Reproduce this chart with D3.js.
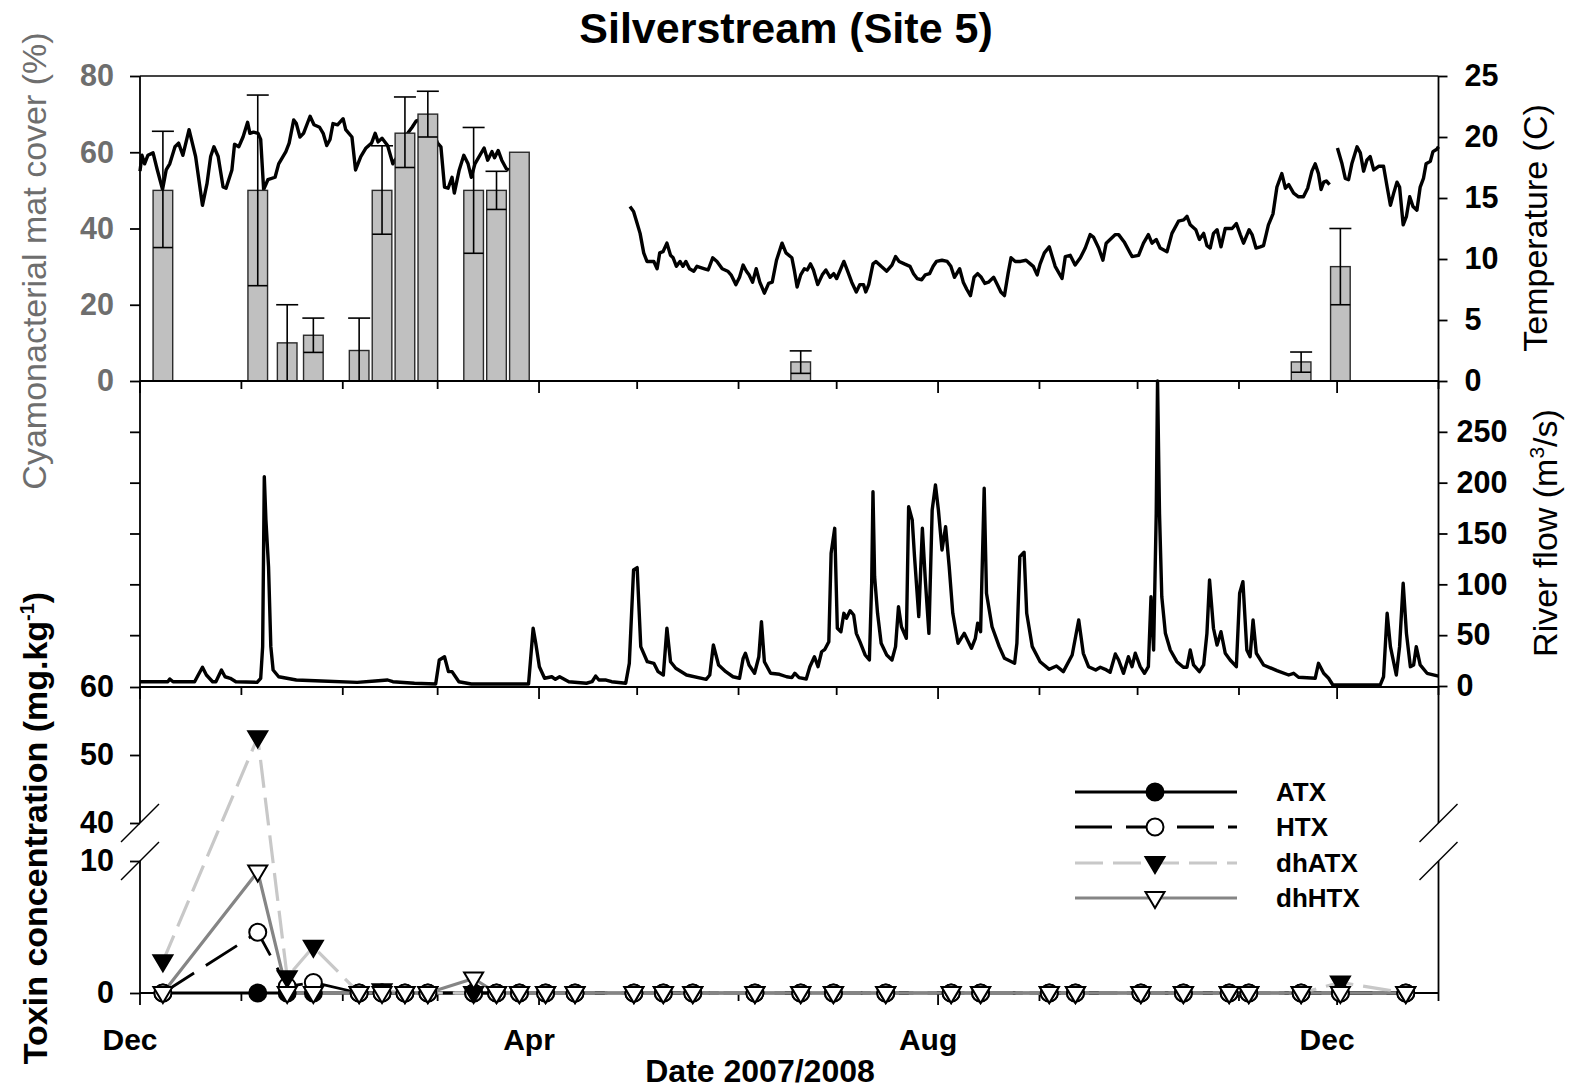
<!DOCTYPE html>
<html><head><meta charset="utf-8">
<script src="https://cdnjs.cloudflare.com/ajax/libs/d3/7.8.5/d3.min.js"></script>
<style>
html,body{margin:0;padding:0;background:#fff;}
svg text{font-family:"Liberation Sans",Arial,Helvetica,sans-serif;}
</style></head><body>
<svg id="chart" width="1570" height="1089"></svg>
<script>
// ---------------- DATA ----------------
const START = "2007-12-01", END = "2009-01-01";
const chartTitle = "Silverstream (Site 5)";
const monthLabels = ["Dec", "Apr", "Aug", "Dec"];
const matTicks = [0, 20, 40, 60, 80];
const tempTicks = [0, 5, 10, 15, 20, 25];
const flowTicks = [0, 50, 100, 150, 200, 250];
const toxinTicks = [0, 10, 40, 50, 60];
const seriesNames = ["ATX", "HTX", "dhATX", "dhHTX"];

// toxin sampling dates
const sampleDates = ["2007-12-08","2008-01-06","2008-01-15","2008-01-23","2008-02-06","2008-02-13","2008-02-20","2008-02-27",
  "2008-03-12","2008-03-19","2008-03-26","2008-04-03","2008-04-12","2008-04-30","2008-05-09","2008-05-18","2008-06-06",
  "2008-06-20","2008-06-30","2008-07-16","2008-08-05","2008-08-14","2008-09-04","2008-09-12","2008-10-02","2008-10-15",
  "2008-10-29","2008-11-04","2008-11-20","2008-12-02","2008-12-22"];
const atx   = [0,0,0,0,0,0,0,0,0,0,0,0,0,0,0,0,0,0,0,0,0,0,0,0,0,0,0,0,0,0,0];
const htx   = [0,4.6,0.5,0.8,0,0,0,0,0,0,0,0,0,0,0,0,0,0,0,0,0,0,0,0,0,0,0,0,0,0,0];
const dhatx = [2.4,52.6,1.2,3.5,0,0.2,0,0,0,0,0,0,0,0,0,0,0,0,0,0,0,0,0,0,0,0,0,0,0,0.8,0];
const dhhtx = [0,9.2,0,0,0,0,0,0,1.1,0,0,0,0,0,0,0,0,0,0,0,0,0,0,0,0,0,0,0,0,0,0];

// cyanobacterial mat cover (%) with error range
const matDates = ["2007-12-08","2008-01-06","2008-01-15","2008-01-23","2008-02-06","2008-02-13","2008-02-20",
  "2008-02-27","2008-03-12","2008-03-19","2008-03-26","2008-06-20","2008-11-20","2008-12-02"];
const matCover = [50, 50, 10, 12, 8, 50, 65, 70, 50, 50, 60, 5, 5, 30];
const matLow   = [35, 25, 0, 7.5, 0, 38.5, 56, 64, 33.5, 45, null, 2, 2.3, 20];
const matHigh  = [65.5, 75, 20, 16.5, 16.5, 61.7, 74.5, 76, 66.5, 55, null, 7.9, 7.6, 40];

// water temperature, [days since START, deg C], three logged stretches
const tempSeg1 = [[0,17.2],[0.6,18.5],[1.4,17.8],[2.4,18.5],[4.0,18.7],[5.2,17.4],[6.9,15.7],[8.0,17.3],[9.1,17.8],[10.7,19.2],[11.8,19.5],[13.1,18.5],[15.0,20.6],[17.0,18.4],[19.1,14.4],[20.5,16.2],[21.6,18.4],[22.6,19.2],[23.9,18.4],[25.4,15.9],[26.3,15.8],[28.1,17.3],[28.9,19.4],[30.2,19.2],[31.5,20.0],[32.9,21.2],[33.6,20.3],[34.7,20.4],[36.1,20.3],[36.9,19.8],[37.8,15.7],[39.1,16.5],[41.3,16.7],[42.4,17.8],[44.6,18.8],[45.6,19.5],[47.0,21.4],[47.8,21.1],[48.9,20.0],[50.0,20.3],[52.0,21.7],[53.2,21.0],[54.9,20.8],[56.0,20.3],[57.1,19.3],[58.1,19.8],[59.0,21.1],[60.4,21.0],[62.1,21.5],[62.9,20.6],[64.8,20.0],[65.9,17.3],[67.5,18.4],[69.1,19.1],[70.8,19.5],[71.9,20.3],[72.8,19.6],[74.0,19.9],[75.7,19.3],[77.3,17.8],[78.9,18.5],[81.0,20.0],[83.2,20.8],[84.4,21.3],[86.2,21.5],[88.7,21.0],[91.0,19.5],[92.0,19.2],[93.1,15.9],[94.2,15.8],[95.4,16.7],[96.1,15.4],[97.6,17.3],[99.0,18.5],[100.3,17.8],[101.3,16.7],[102.4,17.8],[105.2,19.1],[106.3,18.1],[107.6,18.8],[108.4,18.3],[109.5,18.9],[110.6,18.1],[112.0,17.4],[112.8,17.3]];
const tempSeg2 = [[149.8,14.3],[150.9,13.9],[151.8,13.1],[152.9,12.1],[154.0,10.5],[155.0,9.8],[157.1,9.8],[158.1,9.2],[158.9,10.5],[159.9,10.6],[161.1,11.3],[162.2,10.3],[163.0,10.1],[164.0,9.4],[165.1,9.8],[166.0,9.4],[166.9,9.8],[168.0,9.2],[169.3,9.0],[170.3,9.4],[172.6,9.2],[173.7,9.1],[175.1,10.1],[176.4,9.8],[178.0,9.2],[179.7,9.0],[180.7,8.7],[182.2,7.9],[183.3,8.5],[184.4,9.5],[185.4,9.0],[186.2,8.7],[187.3,8.1],[188.4,9.2],[189.5,8.1],[190.9,7.2],[192.2,8.0],[193.3,8.1],[194.6,9.9],[196.3,11.3],[197.5,10.5],[199.3,10.1],[200.1,9.0],[200.9,7.7],[202.0,8.7],[203.1,9.2],[204.0,9.1],[205.0,9.6],[205.9,9.1],[207.2,7.9],[208.6,8.7],[209.7,9.1],[211.0,8.5],[212.1,8.8],[213.0,8.4],[214.1,9.1],[215.2,9.8],[216.2,9.1],[217.6,8.1],[219.0,7.3],[220.1,7.9],[221.2,7.9],[221.9,7.3],[222.8,7.9],[224.1,9.6],[225.0,9.8],[226.6,9.4],[228.3,9.0],[229.9,9.5],[231.0,10.2],[232.1,9.8],[233.7,9.6],[235.4,9.4],[236.5,8.8],[237.6,8.4],[239.0,8.3],[240.1,8.7],[241.4,8.8],[242.5,9.4],[243.5,9.8],[245.2,9.9],[246.8,9.8],[247.9,9.4],[249.0,8.5],[250.6,9.2],[251.7,8.1],[252.8,7.5],[253.9,7.0],[255.0,8.5],[256.1,8.8],[257.2,8.5],[258.3,8.0],[259.4,8.1],[261.0,8.5],[262.1,7.9],[263.2,7.3],[264.3,7.0],[265.4,8.8],[266.3,10.1],[267.6,9.8],[269.2,9.8],[270.9,9.9],[272.2,9.6],[273.1,9.4],[274.3,8.7],[275.2,9.6],[276.5,10.5],[278.0,11.0],[279.8,9.4],[281.9,8.4],[282.9,10.2],[284.4,10.3],[285.9,9.5],[287.5,10.1],[289.0,10.9],[290.5,12.0],[291.5,11.8],[293.1,10.9],[294.4,9.9],[295.4,11.3],[296.6,11.6],[298.2,12.0],[299.2,12.0],[300.9,11.4],[303.3,10.2],[305.3,10.3],[306.8,11.3],[308.3,12.0],[309.4,11.3],[310.7,11.6],[311.9,10.9],[314.0,10.6],[315.5,12.1],[317.5,13.1],[319.1,13.2],[320.1,13.5],[321.1,12.8],[322.8,12.4],[323.9,11.6],[325.2,12.1],[326.2,11.1],[327.2,10.9],[328.2,12.1],[329.3,12.4],[330.5,11.0],[331.8,12.5],[333.9,12.5],[335.2,12.9],[336.4,12.0],[337.4,11.3],[339.1,12.4],[340.0,12.0],[341.2,10.9],[342.5,11.0],[343.5,11.1],[345.0,12.8],[346.4,13.7],[347.6,15.9],[349.1,17.0],[350.2,15.8],[351.2,16.1],[352.7,15.4],[354.2,15.1],[355.7,15.1],[357.0,15.8],[358.3,17.2],[359.3,17.8],[360.3,17.0],[361.1,15.7],[361.9,16.3],[362.7,16.4],[363.7,16.1]];
const tempSeg3 = [[366.1,19.1],[367.5,17.8],[368.5,16.6],[369.5,16.5],[370.5,17.8],[372.1,19.2],[373.1,18.7],[374.1,17.2],[375.1,18.1],[376.1,18.4],[377.2,17.3],[378.7,17.6],[380.2,17.6],[381.3,15.9],[382.3,14.4],[383.3,15.4],[384.3,16.3],[385.1,15.9],[386.2,12.8],[387.2,13.5],[388.2,15.1],[389.2,14.3],[390.4,14.0],[391.4,15.9],[392.4,16.6],[393.2,17.8],[394.5,18.0],[395.3,18.8],[396.5,19.0],[397.0,19.2]];

// river flow, [days since START, m3/s]
const riverFlow = [[0,4.2],[8.5,4.2],[9.1,6.9],[10.1,4.2],[16.7,4.2],[17.8,10.8],[19.1,18.4],[20.3,10.8],[22.2,4.2],[23.2,4.2],[24.9,15.7],[26.0,9.1],[27.6,7.6],[29.3,4.2],[35.8,3.6],[36.9,7.6],[37.5,38.7],[38.0,205.9],[38.5,163.3],[39.3,117.3],[40.0,38.7],[40.7,15.7],[42.4,9.1],[47.8,5.9],[55.5,4.9],[66.4,3.6],[71.9,4.9],[75.7,5.9],[77.3,4.2],[83.9,2.7],[90.4,2.0],[91.5,25.6],[93.1,28.8],[94.3,14.1],[95.4,14.1],[97.5,4.2],[101.3,2.0],[118.8,2.0],[120.2,56.8],[121.0,42],[122.1,19],[123.7,7.6],[125.9,9.1],[127.0,6.6],[128.3,9.1],[131.1,4.2],[136.5,2.7],[138.2,4.2],[139.3,9.8],[140.3,5.9],[142.5,5.9],[144.2,4.2],[148.5,2.7],[149.6,22.3],[150.9,114.1],[152.0,116.4],[153.1,38.7],[155.1,23.9],[157.1,22.3],[158.4,14.1],[160.0,10.8],[161.1,56.8],[162.2,23.9],[163.8,17.4],[167.1,10.8],[173.1,6.6],[174.2,10.8],[175.3,40.3],[176.9,20.7],[179.1,14.1],[181.3,9.1],[183.3,7.6],[184.4,27.2],[185.1,32.2],[186.2,20.7],[187.9,12.5],[189.2,28.8],[190.0,63.2],[190.9,23.9],[192.8,12.5],[195.5,11.5],[197.7,9.1],[199.3,8.2],[200.2,12.5],[201.5,8.2],[203.7,6.9],[204.8,19],[206.2,28.8],[207.3,19],[208.4,33.7],[209.4,36.1],[210.6,43.6],[211.3,130.5],[212.4,155.1],[213.2,56.8],[214.3,53.4],[215.2,71.5],[216.0,66.6],[217.1,74.1],[218.2,69.8],[219.0,51.8],[220.1,43.6],[221.7,30.5],[223.0,25.6],[223.7,101],[224.1,191.1],[224.6,107.5],[225.5,71.5],[226.6,42],[228.3,30.5],[229.9,25.6],[231.0,38.7],[231.9,78],[232.8,58.3],[234.3,46.9],[235.0,176.4],[236.1,163.3],[236.8,127.2],[238.1,68.2],[239.2,155.1],[240.1,104.3],[241.2,51.8],[242.2,173.1],[243.2,197.7],[244.1,173.1],[245.2,133.8],[246.3,156.7],[247.4,117.3],[248.5,71.5],[250.1,42],[252.0,51.8],[254.2,37.1],[255.4,46.9],[256.1,61.7],[257.0,53.4],[258.1,194.5],[258.8,91.2],[260.5,58.3],[262.7,38.7],[264.3,27.2],[267.4,22.3],[268.1,42],[269.0,127.2],[270.3,131.5],[271.1,71.5],[272.8,38.7],[275.2,23.9],[278.0,16.4],[280.2,19.7],[282.3,14.1],[285.0,30.5],[287.0,64.9],[288.4,32.2],[290.0,19],[292.2,15.7],[293.6,18.4],[295.1,16.4],[296.6,13.5],[298.2,31.5],[299.2,25.6],[300.7,12.5],[302.2,28.8],[303.3,19],[304.3,32.2],[305.8,19],[307.1,12.5],[308.3,19],[309.1,87.8],[309.9,35.4],[310.7,169.9],[311.1,300],[311.7,169.9],[312.4,87.8],[313.5,51.8],[315.0,35.4],[317.0,23.9],[319.0,18.4],[320.1,18.4],[321.1,35.4],[322.1,20.7],[323.9,14.1],[325.2,20.7],[326.2,51.8],[327.0,104.3],[328.2,56.8],[329.3,40.3],[330.5,53.4],[331.8,32.2],[333.3,25.6],[335.2,19],[336.2,91.2],[337.2,102.6],[338.4,35.4],[339.4,28.8],[340.3,64.9],[341.3,32.2],[343.5,20.7],[347.6,15.1],[351.2,10.8],[352.7,12.5],[354.2,8.6],[359.3,7.6],[360.3,22.3],[361.9,12.5],[363.4,7.6],[364.7,1],[379.2,1],[380.2,9.1],[381.3,71.5],[382.3,38.7],[384.1,10.8],[385.1,38.7],[386.2,101],[387.2,51.8],[388.4,19],[389.4,20.7],[390.2,38.7],[391.4,20.7],[393.5,12.5],[397.0,9.8]];

// ---------------- CHART ----------------
const FONT = '"Liberation Sans", Arial, Helvetica, sans-serif';
const GREY_TXT = "#6e6e6e";
const TICK_FS = 30.5;
const L = 140, R = 1438.5, Y0 = 76, Y1 = 381, Y2 = 687, Y3 = 993;
const svg = d3.select("#chart");
const parse = d3.utcParse("%Y-%m-%d");
const t0 = parse(START), t1 = parse(END);
const dayToDate = d => new Date(t0.getTime() + d * 864e5);

const x = d3.scaleUtc().domain([t0, t1]).range([L, R]);
const yMat = d3.scaleLinear().domain([0, 80]).range([Y1, Y0]);
const yTemp = d3.scaleLinear().domain([0, 25]).range([Y1, Y0]);
const yFlow = d3.scaleLinear().domain([0, 300]).range([Y2 - 1, Y1]);
const yTox = d3.scaleLinear().domain([0, 10, 40, 60]).range([Y3, 861, 823, Y2]);

// title
svg.append("text").attr("x", 786).attr("y", 43).attr("text-anchor", "middle")
  .attr("font-size", 43).attr("font-weight", "bold").text(chartTitle);

// ---- top panel: temperature line then bars ----
const lineT = d3.line().x(d => x(dayToDate(d[0]))).y(d => yTemp(d[1]));
[tempSeg1, tempSeg2, tempSeg3].forEach(seg => {
  svg.append("path").attr("d", lineT(seg)).attr("fill", "none")
    .attr("stroke", "#000").attr("stroke-width", 3.4).attr("stroke-linejoin", "round");
});
const bars = matDates.map((d, i) => ({ date: parse(d), v: matCover[i], lo: matLow[i], hi: matHigh[i] }));
const halfW = d => (x(d3.utcDay.offset(d, 3)) - x(d3.utcDay.offset(d, -3))) / 2;
svg.append("g").selectAll("rect").data(bars).join("rect")
  .attr("x", d => x(d.date) - halfW(d.date)).attr("width", d => 2 * halfW(d.date))
  .attr("y", d => yMat(d.v)).attr("height", d => yMat(0) - yMat(d.v))
  .attr("fill", "#c0c0c0").attr("stroke", "#2a2a2a").attr("stroke-width", 1.4);
const eb = svg.append("g").attr("stroke", "#000").attr("stroke-width", 1.6);
bars.filter(d => d.lo != null).forEach(d => {
  const cx = x(d.date);
  eb.append("line").attr("x1", cx).attr("x2", cx).attr("y1", yMat(d.lo)).attr("y2", yMat(d.hi));
  eb.append("line").attr("x1", cx - 11).attr("x2", cx + 11).attr("y1", yMat(d.hi)).attr("y2", yMat(d.hi));
  eb.append("line").attr("x1", cx - halfW(d.date)).attr("x2", cx + halfW(d.date)).attr("y1", yMat(d.lo)).attr("y2", yMat(d.lo));
});

// ---- middle panel: river flow ----
const lineQ = d3.line().x(d => x(dayToDate(d[0]))).y(d => yFlow(d[1]));
svg.append("path").attr("d", lineQ(riverFlow)).attr("fill", "none")
  .attr("stroke", "#000").attr("stroke-width", 3.4).attr("stroke-linejoin", "round");

// ---- frame lines ----
const frame = svg.append("g").attr("stroke", "#000").attr("stroke-width", 1.8).attr("fill", "none");
frame.append("line").attr("x1", L).attr("x2", R).attr("y1", Y0).attr("y2", Y0).attr("stroke", "#444").attr("stroke-width", 2.2);
[Y1, Y2, Y3].forEach(yy => frame.append("line").attr("x1", L).attr("x2", R).attr("y1", yy).attr("y2", yy));
[L, R].forEach(xx => {
  frame.append("line").attr("x1", xx).attr("x2", xx).attr("y1", Y0).attr("y2", yTox(40));
  frame.append("line").attr("x1", xx).attr("x2", xx).attr("y1", yTox(10)).attr("y2", Y3);
  [40, 10].forEach(v => frame.append("line").attr("stroke-width", 1.4)
    .attr("x1", xx - 19).attr("y1", yTox(v) + 19).attr("x2", xx + 19).attr("y2", yTox(v) - 19));
});

// ---- y axes ----
function styleAxis(g, color, size, weight) {
  g.select(".domain").remove();
  g.selectAll(".tick line").attr("stroke", "#000").attr("stroke-width", 1.8);
  g.selectAll(".tick text").attr("fill", color).attr("font-size", size)
    .attr("font-weight", weight).attr("font-family", FONT);
}
svg.append("g").attr("transform", `translate(${L},0)`)
  .call(d3.axisLeft(yMat).tickValues(matTicks).tickSize(10).tickPadding(16))
  .call(g => styleAxis(g, GREY_TXT, TICK_FS, "bold"));
svg.append("g").attr("transform", `translate(${L},0)`)
  .call(d3.axisLeft(yFlow).tickValues(flowTicks.slice(1)).tickSize(10).tickFormat(""))
  .call(g => styleAxis(g, "#000", TICK_FS, "bold"));
svg.append("g").attr("transform", `translate(${L},0)`)
  .call(d3.axisLeft(yTox).tickValues(toxinTicks).tickSize(10).tickPadding(16))
  .call(g => styleAxis(g, "#000", TICK_FS, "bold"));
svg.append("g").attr("transform", `translate(${R},0)`)
  .call(d3.axisRight(yTemp).tickValues(tempTicks).tickSize(9).tickPadding(17))
  .call(g => styleAxis(g, "#000", TICK_FS, "bold"));
svg.append("g").attr("transform", `translate(${R},0)`)
  .call(d3.axisRight(yFlow).tickValues(flowTicks).tickSize(9).tickPadding(9))
  .call(g => styleAxis(g, "#000", TICK_FS, "bold"));

// ---- x ticks (monthly, every 4th longer) ----
const months = d3.utcMonth.range(t0, d3.utcDay.offset(t1, 1));
[Y1, Y2, Y3].forEach(yy => {
  svg.append("g").selectAll("line").data(months).join("line")
    .attr("x1", d => x(d)).attr("x2", d => x(d))
    .attr("y1", yy).attr("y2", (d, i) => yy + (i % 4 === 0 ? 12 : 8))
    .attr("stroke", "#000").attr("stroke-width", 1.8);
});
const majors = months.filter((d, i) => i % 4 === 0 && d < t1);
svg.append("g").selectAll("text").data(majors).join("text")
  .attr("x", d => x(d) - 10).attr("y", 1050).attr("text-anchor", "middle")
  .attr("font-size", 30).attr("font-weight", "bold").text((d, i) => monthLabels[i]);

// ---- axis titles ----
svg.append("text").attr("transform", "translate(760,1082)").attr("text-anchor", "middle")
  .attr("font-size", 32).attr("font-weight", "bold").text("Date 2007/2008");
svg.append("text").attr("transform", "translate(46,261) rotate(-90)").attr("text-anchor", "middle")
  .attr("font-size", 34).attr("fill", GREY_TXT).text("Cyamonacterial mat cover (%)");
svg.append("text").attr("transform", "translate(1547,228) rotate(-90)").attr("text-anchor", "middle")
  .attr("font-size", 34).text("Temperature (C)");
const rf = svg.append("text").attr("transform", "translate(1557,533) rotate(-90)").attr("text-anchor", "middle")
  .attr("font-size", 34);
rf.append("tspan").text("River flow (m");
rf.append("tspan").attr("font-size", 21).attr("dy", -13).text("3");
rf.append("tspan").attr("dy", 13).text("/s)");
const tx = svg.append("text").attr("transform", "translate(47,828) rotate(-90)").attr("text-anchor", "middle")
  .attr("font-size", 34).attr("font-weight", "bold");
tx.append("tspan").text("Toxin concentration (mg.kg");
tx.append("tspan").attr("font-size", 20).attr("dy", -13).text("-1");
tx.append("tspan").attr("dy", 13).text(")");

// ---- bottom panel: toxins ----
const sDates = sampleDates.map(parse);
const styles = [
  { vals: atx,   stroke: "#000",    width: 2.8, dash: null,    marker: "circle", fill: "#000" },
  { vals: htx,   stroke: "#000",    width: 2.8, dash: "37,14", marker: "circle", fill: "#fff" },
  { vals: dhatx, stroke: "#c8c8c8", width: 3.2, dash: "28,10", marker: "tri",    fill: "#000" },
  { vals: dhhtx, stroke: "#858585", width: 3.2, dash: null,    marker: "tri",    fill: "#fff" }
];
const lineTox = d3.line().x((d, i) => x(sDates[i])).y(d => yTox(d));
styles.forEach(s => {
  svg.append("path").attr("d", lineTox(s.vals)).attr("fill", "none").attr("stroke", s.stroke)
    .attr("stroke-width", s.width).attr("stroke-dasharray", s.dash).attr("stroke-linejoin", "round");
});
const TRI = "M-9.5,-6L9.5,-6L0,10Z";
function drawMarker(g, s, cx, cy) {
  if (s.marker === "circle") {
    g.append("circle").attr("cx", cx).attr("cy", cy).attr("r", 8.5)
      .attr("fill", s.fill).attr("stroke", "#000").attr("stroke-width", 2);
  } else {
    g.append("path").attr("d", TRI).attr("transform", `translate(${cx},${cy})`)
      .attr("fill", s.fill).attr("stroke", "#000").attr("stroke-width", 2).attr("stroke-linejoin", "miter");
  }
}
const mk = svg.append("g");
styles.forEach(s => s.vals.forEach((v, i) => drawMarker(mk, s, x(sDates[i]), yTox(v))));

// ---- legend ----
const legY = [792, 827, 863, 898];
const lg = svg.append("g");
styles.forEach((s, i) => {
  lg.append("line").attr("x1", 1075).attr("x2", 1237).attr("y1", legY[i]).attr("y2", legY[i])
    .attr("stroke", s.stroke).attr("stroke-width", s.width).attr("stroke-dasharray", s.dash);
  drawMarker(lg, s, 1155, legY[i]);
  lg.append("text").attr("x", 1276).attr("y", legY[i]).attr("dy", "0.36em")
    .attr("font-size", 26).attr("font-weight", "bold").text(seriesNames[i]);
});
</script>
</body></html>
